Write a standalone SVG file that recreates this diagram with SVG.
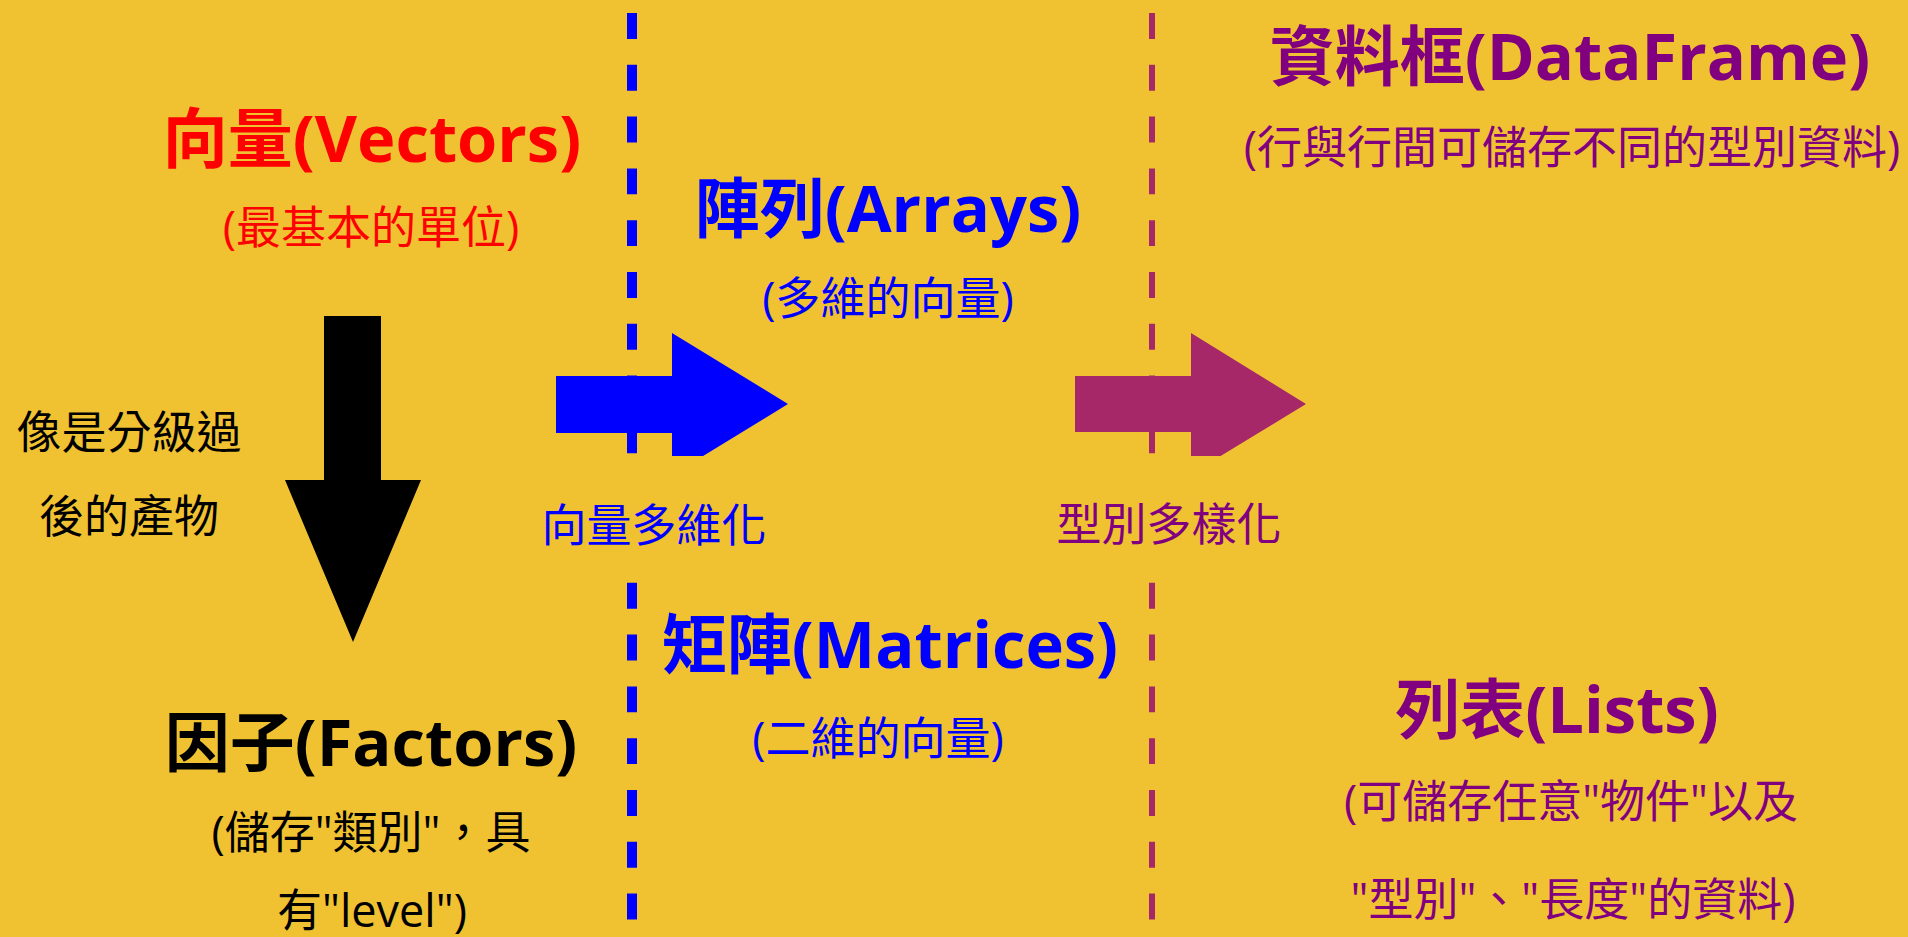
<svg xmlns="http://www.w3.org/2000/svg" width="1908" height="937" viewBox="0 0 1908 937">
<style>
.t{font-family:"Open Sans","Noto Sans CJK TC",sans-serif;font-weight:700;font-size:65px;text-anchor:middle}
.s{font-family:"Open Sans","Noto Sans CJK TC",sans-serif;font-weight:400;font-size:45px;text-anchor:middle}
.red{fill:#FF0000}.blue{fill:#0000FF}.pur{fill:#800080}.blk{fill:#000000}
.dl{fill:none;stroke-dasharray:25.9 25.9}
</style>
<rect x="0" y="0" width="1908" height="937" fill="#F0C232"/>
<g id="connectors">
<line class="dl" x1="632" y1="13" x2="632" y2="937" stroke="#0000FF" stroke-width="10"/>
<line class="dl" x1="1152" y1="13" x2="1152" y2="937" stroke="#A62868" stroke-width="6"/>
<g id="arrow-down">
<polygon points="324,316 381,316 381,480 421,480 353,642 285,480 324,480" fill="#000000"/>
</g>
<g id="arrow-blue">
<polygon points="556,376 672,376 672,333 788,404 672,475 672,433 556,433" fill="#0000FF"/>
</g>
<g id="arrow-purple">
<polygon points="1075,376 1191,376 1191,333 1306,404 1191,474 1191,432 1075,432" fill="#A62868"/>
</g>
<g id="label-dim">
<rect x="560" y="456" width="180" height="126" fill="#F0C232"/>
<text class="s blue" x="654" y="542">向量多維化</text>
</g>
<g id="label-type">
<rect x="1075" y="456" width="180" height="126" fill="#F0C232"/>
<text class="s pur" x="1169" y="541">型別多樣化</text>
</g>
<g id="label-factor">
<text class="s blk" x="129" y="449">像是分級過</text>
<text class="s blk" x="129" y="533">後的產物</text>
</g>
</g>
<g id="vectors">
<text class="t red" x="372" y="162">向量(Vectors)</text>
<text class="s red" x="371" y="244">(最基本的單位)</text>
</g>
<g id="arrays">
<text class="t blue" x="888" y="232">陣列(Arrays)</text>
<text class="s blue" x="888" y="315">(多維的向量)</text>
</g>
<g id="dataframe">
<text class="t pur" x="1570" y="80">資料框(DataFrame)</text>
<text class="s pur" x="1572" y="164">(行與行間可儲存不同的型別資料)</text>
</g>
<g id="factors">
<text class="t blk" x="371" y="766">因子(Factors)</text>
<text class="s blk" x="371" y="849">(儲存"類別"，具</text>
<text class="s blk" x="372" y="927">有"level")</text>
</g>
<g id="matrices">
<text class="t blue" x="890" y="668">矩陣(Matrices)</text>
<text class="s blue" x="878" y="755">(二維的向量)</text>
</g>
<g id="lists">
<text class="t pur" x="1557" y="733">列表(Lists)</text>
<text class="s pur" x="1571" y="818">(可儲存任意"物件"以及</text>
<text class="s pur" x="1573" y="916">"型別"、"長度"的資料)</text>
</g>
</svg>
